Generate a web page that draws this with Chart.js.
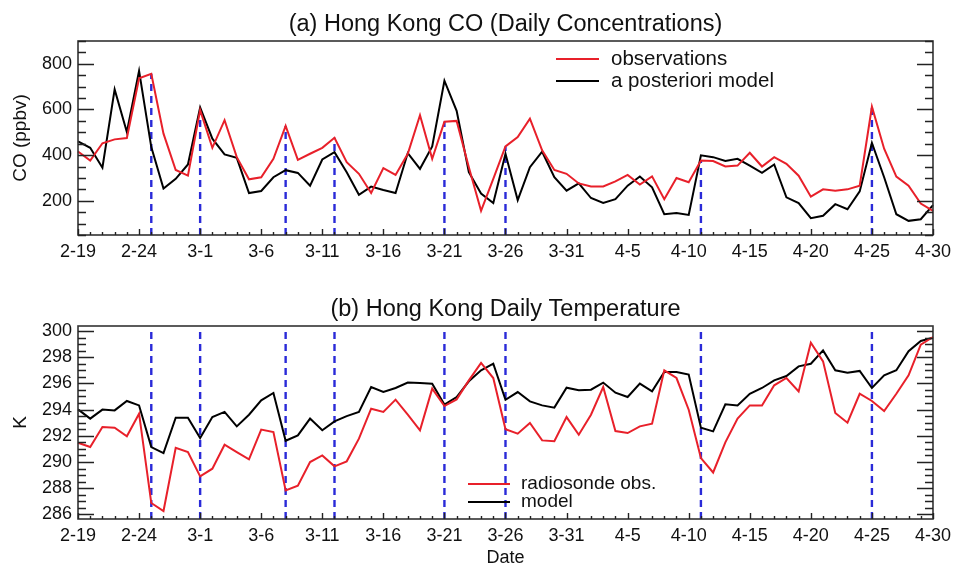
<!DOCTYPE html>
<html>
<head>
<meta charset="utf-8">
<script src="https://cdn.jsdelivr.net/npm/chart.js@4.4.1/dist/chart.umd.min.js"></script>
<style>
  html, body { margin: 0; padding: 0; background: #fff; }
  #wrap { position: relative; width: 957px; height: 569px; }
  .panel { position: absolute; left: 0; width: 957px; }
  #panelA { top: 0; height: 285px; }
  #panelB { top: 285px; height: 284px; }
</style>
</head>
<body>
<div id="wrap">
  <div class="panel" id="panelA"><canvas id="coChart"></canvas></div>
  <div class="panel" id="panelB"><canvas id="tempChart"></canvas></div>
</div>
<script>
// daily dates, 19 Feb - 30 Apr
const dates = [
  '2-19','2-20','2-21','2-22','2-23','2-24','2-25','2-26','2-27','2-28',
  '3-1','3-2','3-3','3-4','3-5','3-6','3-7','3-8','3-9','3-10',
  '3-11','3-12','3-13','3-14','3-15','3-16','3-17','3-18','3-19','3-20',
  '3-21','3-22','3-23','3-24','3-25','3-26','3-27','3-28','3-29','3-30','3-31',
  '4-1','4-2','4-3','4-4','4-5','4-6','4-7','4-8','4-9','4-10',
  '4-11','4-12','4-13','4-14','4-15','4-16','4-17','4-18','4-19','4-20',
  '4-21','4-22','4-23','4-24','4-25','4-26','4-27','4-28','4-29','4-30'
];

// (a) CO, ppbv
const coObs = [
  416, 376, 452, 469, 475, 737, 756, 494, 335, 310,
  597, 432, 553, 391, 294, 303, 384, 528, 379, 406,
  432, 476, 369, 318, 234, 343, 313, 406, 575, 384,
  546, 550, 347, 156, 296, 438, 479, 560, 421, 335, 318,
  276, 263, 263, 285, 313, 271, 307, 207, 300, 281,
  376, 374, 350, 354, 410, 350, 391, 362, 310, 218,
  250, 244, 250, 266, 612, 428, 306, 266, 188, 156
];
const coModel = [
  460, 432, 345, 688, 501, 769, 435, 254, 296, 359,
  609, 472, 403, 388, 234, 243, 303, 334, 322, 266,
  381, 413, 325, 226, 262, 247, 234, 409, 340, 438,
  726, 594, 325, 232, 190, 406, 203, 347, 415, 303, 244,
  276, 212, 190, 207, 266, 306, 259, 141, 146, 138,
  399, 391, 374, 384, 354, 322, 359, 215, 190, 124,
  134, 185, 163, 241, 453, 303, 141, 112, 119, 181
];

// (b) temperature, K
const tempObs = [
  291.47, 291.14, 292.67, 292.62, 291.96, 293.69, 286.87, 286.26, 291.09, 290.76,
  288.90, 289.49, 291.32, 290.76, 290.20, 292.47, 292.29, 287.83, 288.20, 290.00,
  290.50, 289.67, 290.05, 291.78, 294.07, 293.82, 294.76, 293.61, 292.42, 295.60,
  294.27, 294.78, 296.23, 297.56, 296.41, 292.50, 292.16, 292.98, 291.65, 291.58, 293.43,
  292.08, 293.61, 295.72, 292.36, 292.21, 292.72, 292.92, 297.00, 296.41, 293.99,
  290.30, 289.20, 291.50, 293.31, 294.32, 294.32, 295.85, 296.41, 295.39, 299.11,
  297.68, 293.74, 293.00, 295.21, 294.66, 293.89, 295.21, 296.61, 298.96, 299.54
];
const tempModel = [
  294.02, 293.31, 294.00, 293.94, 294.66, 294.32, 291.14, 290.68, 293.38, 293.38,
  291.83, 293.43, 293.82, 292.72, 293.61, 294.71, 295.27, 291.62, 292.03, 293.31,
  292.42, 293.10, 293.50, 293.82, 295.72, 295.34, 295.65, 296.06, 296.03, 295.98,
  294.38, 294.96, 296.16, 297.00, 297.50, 294.75, 295.34, 294.63, 294.32, 294.15, 295.67,
  295.47, 295.52, 296.06, 295.29, 294.96, 295.98, 295.39, 296.87, 296.87, 296.67,
  292.62, 292.34, 294.40, 294.32, 295.21, 295.65, 296.23, 296.56, 297.30, 297.50,
  298.52, 297.00, 296.82, 296.95, 295.65, 296.61, 297.00, 298.45, 299.24, 299.49
];

// days marked with blue dashed lines
const eventDates = ['2-25', '3-1', '3-8', '3-12', '3-21', '3-26', '4-11', '4-25'];

const coTicks = [200, 400, 600, 800];
const tempTicks = [286, 288, 290, 292, 294, 296, 298, 300];

const FONT = "'Liberation Sans', Arial, Helvetica, sans-serif";
const RED = '#e8202a';
const BLUE = '#2a2ad8';

// frame, inward ticks, dashed event lines, titles and legend
const panelDecor = {
    id: 'panelDecor',
    beforeDatasetsDraw(chart, args, opts) {
        const ctx = chart.ctx;
        const area = chart.chartArea;
        const x = chart.scales.x, y = chart.scales.y;
        ctx.save();
        ctx.strokeStyle = BLUE;
        ctx.lineWidth = 2.4;
        ctx.setLineDash([7, 5]);
        eventDates.forEach(d => {
            const i = dates.indexOf(d);
            const px = x.getPixelForValue(i);
            const top = opts.dashTo ? y.getPixelForValue(opts.dashTo[i]) : area.top + 2;
            ctx.beginPath();
            ctx.moveTo(px, area.bottom);
            ctx.lineTo(px, top);
            ctx.stroke();
        });
        ctx.restore();
    },
    afterDraw(chart, args, opts) {
        const ctx = chart.ctx;
        const area = chart.chartArea;
        const x = chart.scales.x, y = chart.scales.y;
        ctx.save();

        // box
        ctx.strokeStyle = '#333';
        ctx.lineWidth = 1.6;
        ctx.strokeRect(area.left, area.top, area.right - area.left, area.bottom - area.top);

        // y ticks on both sides
        ctx.lineWidth = 1.4;
        ctx.strokeStyle = '#222';
        for (let v = opts.minorStart; v <= y.max + 1e-6; v += opts.minorStep) {
            const py = Math.round(y.getPixelForValue(v)) + 0.5;
            const major = Math.abs(v / opts.majorStep - Math.round(v / opts.majorStep)) < 1e-6;
            const len = major ? 16 : 8;
            ctx.beginPath();
            ctx.moveTo(area.left, py); ctx.lineTo(area.left + len, py);
            ctx.moveTo(area.right, py); ctx.lineTo(area.right - len, py);
            ctx.stroke();
        }
        // x ticks, one per day
        for (let i = 0; i < dates.length; i++) {
            const px = Math.round(x.getPixelForValue(i)) + 0.5;
            const len = i % 5 === 0 ? 6 : 3;
            ctx.beginPath();
            ctx.moveTo(px, area.bottom); ctx.lineTo(px, area.bottom - len);
            ctx.stroke();
        }

        ctx.fillStyle = '#111';
        // panel title
        ctx.font = '23.5px ' + FONT;
        ctx.textAlign = 'center';
        ctx.textBaseline = 'middle';
        ctx.fillText(opts.title, (area.left + area.right) / 2, 25);

        // y axis title
        ctx.font = '19px ' + FONT;
        ctx.save();
        ctx.translate(21, (area.top + area.bottom) / 2);
        ctx.rotate(-Math.PI / 2);
        ctx.fillText(opts.yTitle, 0, 0);
        ctx.restore();

        if (opts.xTitle) {
            ctx.font = '18px ' + FONT;
            ctx.fillText(opts.xTitle, (area.left + area.right) / 2, 273);
        }

        // legend
        ctx.font = opts.legendFont + 'px ' + FONT;
        ctx.textAlign = 'left';
        opts.legend.forEach(item => {
            ctx.strokeStyle = item.color;
            ctx.lineWidth = 2;
            ctx.beginPath();
            ctx.moveTo(item.x0, item.y);
            ctx.lineTo(item.x1, item.y);
            ctx.stroke();
            ctx.fillText(item.text, item.tx, item.y);
        });
        ctx.restore();
    }
};

function makeChart(canvasId, obs, model, yMin, yMax, labelTicks, decor) {
    const ctx = document.getElementById(canvasId).getContext('2d');
    return new Chart(ctx, {
        type: 'line',
        data: {
            labels: dates,
            datasets: [
                { label: 'obs', data: obs, borderColor: RED, borderWidth: 2, pointRadius: 0, tension: 0 },
                { label: 'model', data: model, borderColor: '#000', borderWidth: 2, pointRadius: 0, tension: 0 }
            ]
        },
        options: {
            responsive: true,
            maintainAspectRatio: false,
            animation: false,
            layout: { padding: { top: 41, right: 21, left: 0, bottom: 0 } },
            plugins: {
                legend: { display: false },
                tooltip: { enabled: false },
                panelDecor: decor
            },
            scales: {
                x: {
                    type: 'category',
                    offset: false,
                    grid: { display: false, drawTicks: false },
                    border: { display: false },
                    ticks: {
                        autoSkip: false,
                        maxRotation: 0,
                        padding: 6,
                        color: '#111',
                        font: { family: FONT, size: 18 },
                        callback: function (val, index) {
                            return index % 5 === 0 ? this.getLabelForValue(val) : null;
                        }
                    },
                    afterFit(scale) { scale.height = 50; }
                },
                y: {
                    min: yMin,
                    max: yMax,
                    grid: { display: false, drawTicks: false },
                    border: { display: false },
                    ticks: {
                        autoSkip: false,
                        padding: 6,
                        color: '#111',
                        font: { family: FONT, size: 18 }
                    },
                    afterBuildTicks(scale) { scale.ticks = labelTicks.map(v => ({ value: v })); },
                    afterFit(scale) { scale.width = 78; }
                }
            }
        },
        plugins: [panelDecor]
    });
}

makeChart('coChart', coObs, coModel, 50, 900, coTicks, {
    title: '(a) Hong Kong CO (Daily Concentrations)',
    yTitle: 'CO (ppbv)',
    minorStart: 50, minorStep: 50, majorStep: 200,
    dashTo: coObs,
    legendFont: 20.5,
    legend: [
        { text: 'observations', color: RED, x0: 556, x1: 599, tx: 611, y: 59 },
        { text: 'a posteriori model', color: '#000', x0: 556, x1: 599, tx: 611, y: 81 }
    ]
});

makeChart('tempChart', tempObs, tempModel, 285.65, 300.38, tempTicks, {
    title: '(b) Hong Kong Daily Temperature',
    yTitle: 'K',
    xTitle: 'Date',
    minorStart: 286, minorStep: 0.5, majorStep: 2,
    dashTo: null,
    legendFont: 19,
    legend: [
        { text: 'radiosonde obs.', color: RED, x0: 468, x1: 510, tx: 521, y: 199 },
        { text: 'model', color: '#000', x0: 468, x1: 510, tx: 521, y: 217 }
    ]
});
</script>
</body>
</html>
